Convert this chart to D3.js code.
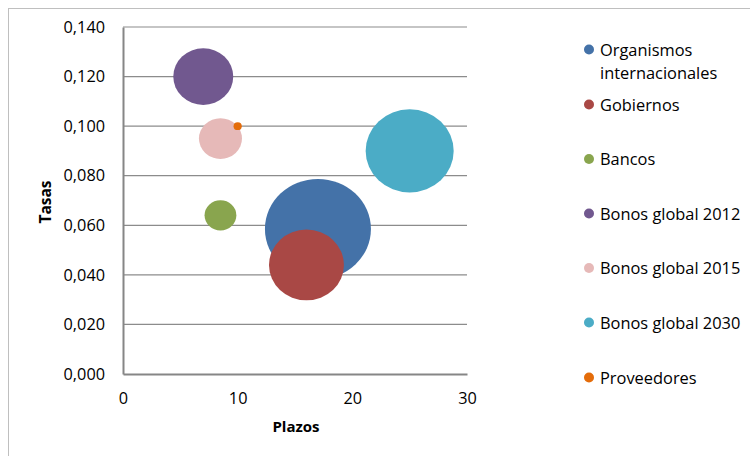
<!DOCTYPE html>
<html><head><meta charset="utf-8">
<script src="https://cdn.jsdelivr.net/npm/d3@7"></script>
<style>body{margin:0;background:#fff;}svg{display:block;font-family:"Open Sans",sans-serif;}</style>
</head><body><svg id="c" width="750" height="456"></svg>
<script>
const series = ["Organismos internacionales","Gobiernos","Bancos","Bonos global 2012","Bonos global 2015","Bonos global 2030","Proveedores"];
const plazos = [17, 16, 8.5, 7, 8.5, 25, 10];
const tasas = [0.0585, 0.044, 0.064, 0.120, 0.095, 0.090, 0.100];
const montos = [100, 50, 9, 32, 16.5, 69, 0.6];
const colors = ["#4472a8","#a94845","#89a54e","#71588f","#e6b9b8","#4bacc6","#e46c0a"];
const xTicks = [0, 10, 20, 30];
const yTicks = [0, 0.02, 0.04, 0.06, 0.08, 0.10, 0.12, 0.14];

const svg = d3.select("#c");
svg.append("rect").attr("x",8.5).attr("y",8.5).attr("width",760).attr("height",470)
  .attr("fill","none").attr("stroke","#bfbfbf").attr("stroke-width",1);

const x = d3.scaleLinear().domain([0,30]).range([123,467]);
const y = d3.scaleLinear().domain([0,0.14]).range([374,27]);
const r = d3.scaleSqrt().domain([0,100]).range([0,53]);
const yStretch = 0.945;

svg.append("g").selectAll("line").data(yTicks.filter(d=>d>0)).join("line")
  .attr("x1",x(0)).attr("x2",x(30)).attr("y1",d=>y(d)).attr("y2",d=>y(d))
  .attr("stroke","#8c8c8c").attr("stroke-width",1.2);

const fmt = d => d3.format(".3f")(d).replace(".",",");
const yAxis = svg.append("g").attr("transform",`translate(${x(0)},0)`)
  .call(d3.axisLeft(y).tickValues(yTicks).tickFormat(fmt).tickSize(0).tickPadding(18));
yAxis.select(".domain").attr("stroke","#868686").attr("stroke-width",2);
yAxis.selectAll("text").attr("font-size",16.3).attr("fill","#000").attr("font-family","Open Sans");

const xAxis = svg.append("g").attr("transform",`translate(0,${y(0)})`)
  .call(d3.axisBottom(x).tickValues(xTicks).tickFormat(d3.format("d")).tickSize(0).tickPadding(18));
xAxis.select(".domain").attr("stroke","#868686").attr("stroke-width",2);
xAxis.selectAll("text").attr("font-size",16.3).attr("fill","#000").attr("font-family","Open Sans");

const data = series.map((s,i)=>({s, x:plazos[i], y:tasas[i], m:montos[i], c:colors[i]}));
svg.append("g").selectAll("ellipse").data(data).join("ellipse")
  .attr("cx",d=>x(d.x)).attr("cy",d=>y(d.y))
  .attr("rx",d=>Math.max(4,r(d.m))).attr("ry",d=>Math.max(4,r(d.m))*yStretch)
  .attr("fill",d=>d.c);

svg.append("text").attr("x",296).attr("y",432).attr("text-anchor","middle")
  .attr("font-weight","bold").attr("font-size",15).text("Plazos");
svg.append("text").attr("transform","translate(51,202) rotate(-90)").attr("text-anchor","middle")
  .attr("font-weight","bold").attr("font-size",15.5).text("Tasas");

const legY = [49.5, 104.5, 159, 213.5, 268, 322.5, 377.5];
const leg = svg.append("g");
data.forEach((d,i)=>{
  leg.append("circle").attr("cx",589).attr("cy",legY[i]).attr("r",5).attr("fill",d.c);
  const t = leg.append("text").attr("x",600).attr("y",legY[i]+6).attr("font-size",16.4).attr("fill","#000");
  if (i===0){
    t.append("tspan").attr("x",600).text("Organismos");
    t.append("tspan").attr("x",600).attr("dy",23).text("internacionales");
  } else t.text(d.s);
});
</script></body></html>
